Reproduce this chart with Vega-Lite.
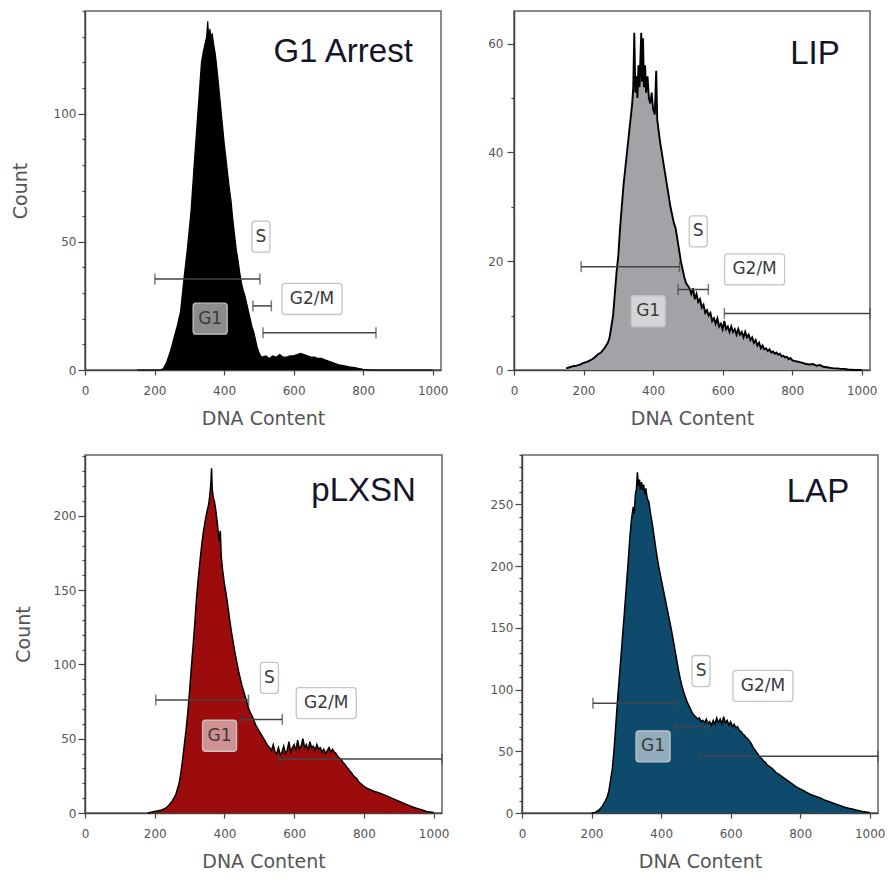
{
  "$schema": "https://vega.github.io/schema/vega-lite/v6.json",
  "background": "white",
  "padding": {"left": 10, "top": 9, "right": 5, "bottom": 5},
  "config": {
    "font": "DejaVu Sans",
    "view": {"stroke": "#666", "strokeWidth": 1.5},
    "axis": {
      "grid": false,
      "labelFont": "DejaVu Sans",
      "labelFontSize": 12,
      "labelColor": "#555",
      "titleFont": "DejaVu Sans",
      "titleFontSize": 19,
      "titleFontWeight": "normal",
      "titleColor": "#555",
      "domainColor": "#444",
      "domainWidth": 1.5,
      "tickColor": "#444",
      "tickWidth": 1.2,
      "labelOverlap": false,
      "labelFlush": false
    }
  },
  "datasets": {
    "h1": [
      {"x": 150, "c": 0}, {"x": 215, "c": 0}, {"x": 225, "c": 0.5}, {"x": 235, "c": 3}, {"x": 245, "c": 7}, {"x": 255, "c": 12}, {"x": 265, "c": 17}, {"x": 275, "c": 23}, {"x": 285, "c": 36}, {"x": 295, "c": 48}, {"x": 305, "c": 62}, {"x": 315, "c": 82}, {"x": 325, "c": 101}, {"x": 335, "c": 120}, {"x": 340, "c": 124}, {"x": 345, "c": 127}, {"x": 350, "c": 130}, {"x": 353, "c": 136}, {"x": 356, "c": 129}, {"x": 359, "c": 133}, {"x": 362, "c": 130}, {"x": 366, "c": 131}, {"x": 370, "c": 127}, {"x": 375, "c": 123}, {"x": 380, "c": 117}, {"x": 385, "c": 110}, {"x": 390, "c": 103}, {"x": 395, "c": 96}, {"x": 400, "c": 89}, {"x": 405, "c": 83}, {"x": 410, "c": 77}, {"x": 415, "c": 71}, {"x": 420, "c": 66}, {"x": 425, "c": 59}, {"x": 430, "c": 53}, {"x": 435, "c": 47}, {"x": 440, "c": 43}, {"x": 445, "c": 38}, {"x": 450, "c": 34}, {"x": 455, "c": 31}, {"x": 460, "c": 29}, {"x": 465, "c": 26}, {"x": 470, "c": 23}, {"x": 475, "c": 20}, {"x": 480, "c": 17}, {"x": 485, "c": 15}, {"x": 490, "c": 12}, {"x": 495, "c": 9}, {"x": 500, "c": 7}, {"x": 505, "c": 5.5}, {"x": 510, "c": 5}, {"x": 520, "c": 5.5}, {"x": 530, "c": 4.5}, {"x": 540, "c": 5.5}, {"x": 550, "c": 5}, {"x": 560, "c": 6}, {"x": 570, "c": 5}, {"x": 580, "c": 5}, {"x": 590, "c": 5.5}, {"x": 600, "c": 5.5}, {"x": 610, "c": 6}, {"x": 620, "c": 6.5}, {"x": 630, "c": 6}, {"x": 640, "c": 5.5}, {"x": 650, "c": 5}, {"x": 660, "c": 5}, {"x": 670, "c": 4.5}, {"x": 680, "c": 4.5}, {"x": 690, "c": 4}, {"x": 700, "c": 3.5}, {"x": 710, "c": 3}, {"x": 720, "c": 2.5}, {"x": 730, "c": 2}, {"x": 740, "c": 1.8}, {"x": 750, "c": 1.5}, {"x": 760, "c": 1.2}, {"x": 770, "c": 1}, {"x": 780, "c": 0.8}, {"x": 790, "c": 0.5}, {"x": 800, "c": 0.3}, {"x": 810, "c": 0.2}, {"x": 820, "c": 0}, {"x": 1000, "c": 0}
    ],
    "h2": [
      {"x": 150, "c": 0.3}, {"x": 160, "c": 0.5}, {"x": 170, "c": 0.7}, {"x": 180, "c": 0.8}, {"x": 190, "c": 1}, {"x": 200, "c": 1.3}, {"x": 210, "c": 1.5}, {"x": 220, "c": 1.8}, {"x": 230, "c": 2.2}, {"x": 240, "c": 2.8}, {"x": 250, "c": 3.2}, {"x": 260, "c": 4}, {"x": 270, "c": 5}, {"x": 275, "c": 6}, {"x": 280, "c": 8}, {"x": 285, "c": 10}, {"x": 290, "c": 14}, {"x": 295, "c": 18}, {"x": 300, "c": 21}, {"x": 305, "c": 26}, {"x": 310, "c": 30}, {"x": 315, "c": 34}, {"x": 320, "c": 37}, {"x": 325, "c": 40}, {"x": 330, "c": 43}, {"x": 335, "c": 46}, {"x": 340, "c": 49}, {"x": 343, "c": 52}, {"x": 346, "c": 62}, {"x": 349, "c": 51}, {"x": 352, "c": 54}, {"x": 355, "c": 50}, {"x": 358, "c": 56}, {"x": 361, "c": 52}, {"x": 364, "c": 58}, {"x": 366, "c": 62}, {"x": 368, "c": 53}, {"x": 371, "c": 61}, {"x": 374, "c": 52}, {"x": 377, "c": 56}, {"x": 380, "c": 51}, {"x": 384, "c": 54}, {"x": 388, "c": 50}, {"x": 392, "c": 49}, {"x": 396, "c": 51}, {"x": 400, "c": 48}, {"x": 405, "c": 47}, {"x": 409, "c": 55}, {"x": 412, "c": 46}, {"x": 416, "c": 44}, {"x": 420, "c": 42}, {"x": 425, "c": 40}, {"x": 430, "c": 38}, {"x": 435, "c": 36}, {"x": 440, "c": 34}, {"x": 445, "c": 32}, {"x": 450, "c": 30}, {"x": 455, "c": 28.5}, {"x": 460, "c": 27}, {"x": 465, "c": 26}, {"x": 470, "c": 24}, {"x": 475, "c": 22}, {"x": 480, "c": 20}, {"x": 485, "c": 18.5}, {"x": 490, "c": 17}, {"x": 495, "c": 16}, {"x": 500, "c": 15.5}, {"x": 505, "c": 15}, {"x": 510, "c": 14}, {"x": 515, "c": 15}, {"x": 520, "c": 13}, {"x": 525, "c": 14}, {"x": 530, "c": 12.5}, {"x": 535, "c": 13}, {"x": 540, "c": 11.5}, {"x": 545, "c": 12}, {"x": 550, "c": 10.5}, {"x": 555, "c": 11}, {"x": 560, "c": 10}, {"x": 565, "c": 10.5}, {"x": 570, "c": 9}, {"x": 575, "c": 9.5}, {"x": 580, "c": 8.5}, {"x": 585, "c": 9.5}, {"x": 590, "c": 8}, {"x": 595, "c": 8.5}, {"x": 600, "c": 7.5}, {"x": 605, "c": 9}, {"x": 610, "c": 7.5}, {"x": 615, "c": 8}, {"x": 620, "c": 7}, {"x": 625, "c": 8}, {"x": 630, "c": 7}, {"x": 635, "c": 7.5}, {"x": 640, "c": 6.5}, {"x": 645, "c": 7.5}, {"x": 650, "c": 6.5}, {"x": 655, "c": 7}, {"x": 660, "c": 6}, {"x": 665, "c": 7}, {"x": 670, "c": 6}, {"x": 675, "c": 6.5}, {"x": 680, "c": 5.5}, {"x": 685, "c": 6}, {"x": 690, "c": 5}, {"x": 695, "c": 5.5}, {"x": 700, "c": 4.5}, {"x": 705, "c": 5}, {"x": 710, "c": 4}, {"x": 715, "c": 4.5}, {"x": 720, "c": 3.8}, {"x": 725, "c": 4}, {"x": 730, "c": 3.5}, {"x": 735, "c": 3.8}, {"x": 740, "c": 3.2}, {"x": 745, "c": 3.4}, {"x": 750, "c": 3}, {"x": 755, "c": 3.2}, {"x": 760, "c": 2.8}, {"x": 765, "c": 3}, {"x": 770, "c": 2.5}, {"x": 775, "c": 2.6}, {"x": 780, "c": 2.3}, {"x": 785, "c": 2.4}, {"x": 790, "c": 2}, {"x": 795, "c": 2.2}, {"x": 800, "c": 1.8}, {"x": 810, "c": 1.6}, {"x": 820, "c": 1.5}, {"x": 830, "c": 1.3}, {"x": 840, "c": 1.1}, {"x": 850, "c": 1}, {"x": 860, "c": 1.1}, {"x": 870, "c": 0.8}, {"x": 880, "c": 0.9}, {"x": 890, "c": 0.6}, {"x": 900, "c": 0.5}, {"x": 910, "c": 0.4}, {"x": 920, "c": 0.3}, {"x": 930, "c": 0.3}, {"x": 940, "c": 0.2}, {"x": 950, "c": 0.2}, {"x": 960, "c": 0.1}, {"x": 980, "c": 0}, {"x": 1000, "c": 0}
    ],
    "h3": [
      {"x": 180, "c": 0}, {"x": 190, "c": 0.5}, {"x": 200, "c": 1}, {"x": 210, "c": 1.5}, {"x": 220, "c": 2}, {"x": 230, "c": 3}, {"x": 240, "c": 5}, {"x": 250, "c": 8}, {"x": 260, "c": 12}, {"x": 265, "c": 16}, {"x": 270, "c": 20}, {"x": 275, "c": 27}, {"x": 280, "c": 36}, {"x": 285, "c": 46}, {"x": 290, "c": 56}, {"x": 295, "c": 68}, {"x": 300, "c": 82}, {"x": 305, "c": 98}, {"x": 310, "c": 112}, {"x": 315, "c": 128}, {"x": 320, "c": 145}, {"x": 325, "c": 158}, {"x": 330, "c": 170}, {"x": 335, "c": 181}, {"x": 340, "c": 190}, {"x": 345, "c": 197}, {"x": 350, "c": 203}, {"x": 355, "c": 208}, {"x": 358, "c": 214}, {"x": 361, "c": 222}, {"x": 363, "c": 232}, {"x": 365, "c": 218}, {"x": 368, "c": 212}, {"x": 371, "c": 210}, {"x": 375, "c": 204}, {"x": 380, "c": 194}, {"x": 385, "c": 183}, {"x": 388, "c": 190}, {"x": 391, "c": 172}, {"x": 395, "c": 163}, {"x": 400, "c": 154}, {"x": 405, "c": 147}, {"x": 410, "c": 139}, {"x": 415, "c": 130}, {"x": 420, "c": 122}, {"x": 425, "c": 115}, {"x": 430, "c": 108}, {"x": 435, "c": 102}, {"x": 440, "c": 96}, {"x": 445, "c": 91}, {"x": 450, "c": 86}, {"x": 455, "c": 82}, {"x": 460, "c": 78}, {"x": 465, "c": 74}, {"x": 470, "c": 70}, {"x": 475, "c": 67}, {"x": 480, "c": 65}, {"x": 485, "c": 62}, {"x": 490, "c": 59}, {"x": 495, "c": 57}, {"x": 500, "c": 55}, {"x": 505, "c": 53}, {"x": 510, "c": 51}, {"x": 515, "c": 49}, {"x": 520, "c": 47}, {"x": 525, "c": 45}, {"x": 530, "c": 44}, {"x": 535, "c": 42}, {"x": 540, "c": 46}, {"x": 545, "c": 41}, {"x": 550, "c": 40}, {"x": 555, "c": 44}, {"x": 560, "c": 39}, {"x": 565, "c": 41}, {"x": 570, "c": 45}, {"x": 575, "c": 40}, {"x": 580, "c": 42}, {"x": 585, "c": 48}, {"x": 590, "c": 41}, {"x": 595, "c": 44}, {"x": 600, "c": 46}, {"x": 605, "c": 42}, {"x": 610, "c": 49}, {"x": 615, "c": 43}, {"x": 620, "c": 45}, {"x": 625, "c": 50}, {"x": 630, "c": 44}, {"x": 635, "c": 46}, {"x": 640, "c": 42}, {"x": 645, "c": 48}, {"x": 650, "c": 44}, {"x": 655, "c": 45}, {"x": 660, "c": 42}, {"x": 665, "c": 46}, {"x": 670, "c": 43}, {"x": 675, "c": 44}, {"x": 680, "c": 41}, {"x": 685, "c": 43}, {"x": 690, "c": 40}, {"x": 695, "c": 42}, {"x": 700, "c": 44}, {"x": 705, "c": 41}, {"x": 710, "c": 43}, {"x": 715, "c": 41}, {"x": 720, "c": 40}, {"x": 725, "c": 38}, {"x": 730, "c": 37}, {"x": 735, "c": 36}, {"x": 740, "c": 34}, {"x": 745, "c": 33}, {"x": 750, "c": 31}, {"x": 755, "c": 30}, {"x": 760, "c": 28}, {"x": 765, "c": 27}, {"x": 770, "c": 25}, {"x": 775, "c": 24}, {"x": 780, "c": 23}, {"x": 785, "c": 21}, {"x": 790, "c": 20}, {"x": 795, "c": 19}, {"x": 800, "c": 18}, {"x": 810, "c": 16.5}, {"x": 820, "c": 15.5}, {"x": 830, "c": 14.5}, {"x": 840, "c": 13.8}, {"x": 850, "c": 13}, {"x": 860, "c": 12}, {"x": 870, "c": 11}, {"x": 880, "c": 10}, {"x": 890, "c": 9}, {"x": 900, "c": 8}, {"x": 910, "c": 7}, {"x": 920, "c": 6}, {"x": 930, "c": 5}, {"x": 940, "c": 4}, {"x": 950, "c": 3.3}, {"x": 960, "c": 2.6}, {"x": 970, "c": 1.8}, {"x": 980, "c": 1.1}, {"x": 990, "c": 0.6}, {"x": 1000, "c": 0.3}
    ],
    "h4": [
      {"x": 200, "c": 0}, {"x": 210, "c": 0.5}, {"x": 220, "c": 2}, {"x": 230, "c": 5}, {"x": 240, "c": 10}, {"x": 245, "c": 13}, {"x": 250, "c": 18}, {"x": 255, "c": 27}, {"x": 260, "c": 36}, {"x": 265, "c": 52}, {"x": 270, "c": 72}, {"x": 275, "c": 92}, {"x": 280, "c": 110}, {"x": 285, "c": 128}, {"x": 290, "c": 146}, {"x": 295, "c": 164}, {"x": 300, "c": 183}, {"x": 305, "c": 202}, {"x": 310, "c": 222}, {"x": 315, "c": 238}, {"x": 320, "c": 248}, {"x": 323, "c": 242}, {"x": 326, "c": 258}, {"x": 329, "c": 262}, {"x": 332, "c": 276}, {"x": 335, "c": 265}, {"x": 338, "c": 270}, {"x": 341, "c": 262}, {"x": 344, "c": 268}, {"x": 347, "c": 262}, {"x": 350, "c": 266}, {"x": 353, "c": 258}, {"x": 356, "c": 263}, {"x": 360, "c": 255}, {"x": 365, "c": 252}, {"x": 370, "c": 242}, {"x": 375, "c": 234}, {"x": 380, "c": 224}, {"x": 385, "c": 214}, {"x": 390, "c": 205}, {"x": 395, "c": 197}, {"x": 400, "c": 190}, {"x": 405, "c": 183}, {"x": 410, "c": 176}, {"x": 415, "c": 169}, {"x": 420, "c": 162}, {"x": 425, "c": 155}, {"x": 430, "c": 148}, {"x": 435, "c": 140}, {"x": 440, "c": 132}, {"x": 445, "c": 124}, {"x": 450, "c": 116}, {"x": 455, "c": 109}, {"x": 460, "c": 103}, {"x": 465, "c": 98}, {"x": 470, "c": 94}, {"x": 475, "c": 90}, {"x": 480, "c": 87}, {"x": 485, "c": 84}, {"x": 490, "c": 81}, {"x": 495, "c": 79}, {"x": 500, "c": 78}, {"x": 505, "c": 76}, {"x": 510, "c": 77}, {"x": 515, "c": 74}, {"x": 520, "c": 75}, {"x": 525, "c": 73}, {"x": 530, "c": 76}, {"x": 535, "c": 72}, {"x": 540, "c": 74}, {"x": 545, "c": 71}, {"x": 550, "c": 75}, {"x": 555, "c": 72}, {"x": 560, "c": 77}, {"x": 565, "c": 73}, {"x": 570, "c": 76}, {"x": 575, "c": 72}, {"x": 580, "c": 78}, {"x": 585, "c": 73}, {"x": 590, "c": 75}, {"x": 595, "c": 71}, {"x": 600, "c": 74}, {"x": 605, "c": 70}, {"x": 610, "c": 72}, {"x": 615, "c": 69}, {"x": 620, "c": 70}, {"x": 625, "c": 67}, {"x": 630, "c": 66}, {"x": 635, "c": 64}, {"x": 640, "c": 63}, {"x": 645, "c": 61}, {"x": 650, "c": 60}, {"x": 655, "c": 58}, {"x": 660, "c": 56}, {"x": 665, "c": 53}, {"x": 670, "c": 51}, {"x": 675, "c": 49}, {"x": 680, "c": 47}, {"x": 685, "c": 45}, {"x": 690, "c": 44}, {"x": 695, "c": 42}, {"x": 700, "c": 41}, {"x": 705, "c": 39}, {"x": 710, "c": 38}, {"x": 715, "c": 37}, {"x": 720, "c": 36}, {"x": 730, "c": 33}, {"x": 740, "c": 31}, {"x": 750, "c": 29}, {"x": 760, "c": 27}, {"x": 770, "c": 25}, {"x": 780, "c": 23}, {"x": 790, "c": 21}, {"x": 800, "c": 19.5}, {"x": 810, "c": 18}, {"x": 820, "c": 16.5}, {"x": 830, "c": 15}, {"x": 840, "c": 14}, {"x": 850, "c": 13}, {"x": 860, "c": 12}, {"x": 870, "c": 10.5}, {"x": 880, "c": 9.5}, {"x": 890, "c": 8.5}, {"x": 900, "c": 7.5}, {"x": 910, "c": 6.5}, {"x": 920, "c": 5.5}, {"x": 930, "c": 4.5}, {"x": 940, "c": 3.8}, {"x": 950, "c": 3.2}, {"x": 960, "c": 2.5}, {"x": 970, "c": 1.8}, {"x": 980, "c": 1.2}, {"x": 990, "c": 0.8}, {"x": 1000, "c": 0.5}
    ],
    "gates": [
      {"p": 1, "x1": 201, "x2": 503, "y": 35.5},
      {"p": 1, "x1": 483, "x2": 536, "y": 25},
      {"p": 1, "x1": 512, "x2": 837, "y": 14.5},
      {"p": 2, "x1": 193, "x2": 476, "y": 19},
      {"p": 2, "x1": 472, "x2": 559, "y": 14.8},
      {"p": 2, "x1": 605, "x2": 1024, "y": 10.4},
      {"p": 3, "x1": 203, "x2": 469, "y": 76},
      {"p": 3, "x1": 449, "x2": 566, "y": 63},
      {"p": 3, "x1": 555, "x2": 1024, "y": 36.3},
      {"p": 4, "x1": 204, "x2": 443, "y": 89},
      {"p": 4, "x1": 440, "x2": 535, "y": 70},
      {"p": 4, "x1": 510, "x2": 1024, "y": 46}
    ],
    "labels": [
      {"p": 1, "label": "S", "x": 506, "y": 52},
      {"p": 1, "label": "G2/M", "x": 653, "y": 27.7},
      {"p": 1, "label": "G1", "x": 360, "y": 20},
      {"p": 2, "label": "S", "x": 530, "y": 25.5},
      {"p": 2, "label": "G2/M", "x": 692, "y": 18.5},
      {"p": 2, "label": "G1", "x": 386, "y": 10.8},
      {"p": 3, "label": "S", "x": 529, "y": 91},
      {"p": 3, "label": "G2/M", "x": 692, "y": 74},
      {"p": 3, "label": "G1", "x": 386, "y": 52},
      {"p": 4, "label": "S", "x": 515, "y": 115},
      {"p": 4, "label": "G2/M", "x": 693, "y": 103},
      {"p": 4, "label": "G1", "x": 377, "y": 54}
    ],
    "titles": [
      {"p": 1, "name": "G1 Arrest", "x": 943, "y": 120},
      {"p": 2, "name": "LIP", "x": 937, "y": 56.2},
      {"p": 3, "name": "pLXSN", "x": 949, "y": 210},
      {"p": 4, "name": "LAP", "x": 941, "y": 252}
    ]
  },
  "vconcat": [
    {
      "hconcat": [
        {
          "width": 356, "height": 359,
          "resolve": {"axis": {"y": "independent"}},
          "layer": [
            {"data": {"name": "h1"}, "mark": {"type": "area", "color": "#000000", "interpolate": "linear"},
             "encoding": {
               "x": {"field": "x", "type": "quantitative", "title": "DNA Content", "scale": {"domain": [0, 1024], "nice": false, "zero": false},
                     "axis": {"values": [0,100,200,300,400,500,600,700,800,900,1000], "format": "d", "labelExpr": "datum.value % 200 === 0 ? datum.label : ''", "tickSize": {"condition": {"test": "datum.value % 200 === 0", "value": 5}, "value": 3}, "labelPadding": 10, "titlePadding": 13}},
               "y": {"field": "c", "type": "quantitative", "title": "Count", "scale": {"domain": [0, 140], "nice": false},
                     "axis": {"orient": "left", "values": [0, 50, 100], "format": "d", "tickSize": 7, "labelPadding": 2, "minExtent": 40, "maxExtent": 40, "titlePadding": 15}}
             }},
            {"data": {"name": "h1"}, "mark": {"type": "line", "color": "#000000", "strokeWidth": 1.2},
             "encoding": {"x": {"field": "x", "type": "quantitative"},
               "y": {"field": "c", "type": "quantitative", "title": null, "axis": {"orient": "left", "values": [10,20,30,40,60,70,80,90,110,120,130,140], "labels": false, "domain": false, "tickSize": 3, "minExtent": 0, "maxExtent": 4}}}},
            {"data": {"name": "gates"}, "transform": [{"filter": "datum.p === 1"}], "mark": {"type": "rule", "color": "#444", "strokeWidth": 1.5},
             "encoding": {"x": {"field": "x1", "type": "quantitative"}, "x2": {"field": "x2"}, "y": {"field": "y", "type": "quantitative", "axis": null}}},
            {"data": {"name": "gates"}, "transform": [{"filter": "datum.p === 1"}], "mark": {"type": "tick", "orient": "vertical", "color": "#444", "thickness": 1.5, "size": 11},
             "encoding": {"x": {"field": "x1", "type": "quantitative"}, "y": {"field": "y", "type": "quantitative", "axis": null}}},
            {"data": {"name": "gates"}, "transform": [{"filter": "datum.p === 1"}], "mark": {"type": "tick", "orient": "vertical", "color": "#444", "thickness": 1.5, "size": 11},
             "encoding": {"x": {"field": "x2", "type": "quantitative"}, "y": {"field": "y", "type": "quantitative", "axis": null}}},
            {"data": {"name": "labels"}, "transform": [{"filter": "datum.p === 1"}], "mark": {"type": "point", "filled": true, "fill": "white", "fillOpacity": 0.55, "opacity": 1, "stroke": "#c4c4c4", "strokeWidth": 1.3, "size": 3600},
             "encoding": {"x": {"field": "x", "type": "quantitative"}, "y": {"field": "y", "type": "quantitative", "axis": null},
               "shape": {"field": "label", "type": "nominal", "legend": null, "scale": {"domain": ["S", "G1", "G2/M"], "range": [
                 "M-0.2,-0.517 L0.2,-0.517 Q0.3,-0.517 0.3,-0.417 L0.3,0.417 Q0.3,0.517 0.2,0.517 L-0.2,0.517 Q-0.3,0.517 -0.3,0.417 L-0.3,-0.417 Q-0.3,-0.517 -0.2,-0.517 Z",
                 "M-0.467,-0.517 L0.467,-0.517 Q0.567,-0.517 0.567,-0.417 L0.567,0.417 Q0.567,0.517 0.467,0.517 L-0.467,0.517 Q-0.567,0.517 -0.567,0.417 L-0.567,-0.417 Q-0.567,-0.517 -0.467,-0.517 Z",
                 "M-0.9,-0.517 L0.9,-0.517 Q1,-0.517 1,-0.417 L1,0.417 Q1,0.517 0.9,0.517 L-0.9,0.517 Q-1,0.517 -1,0.417 L-1,-0.417 Q-1,-0.517 -0.9,-0.517 Z"]}}}},
            {"data": {"name": "labels"}, "transform": [{"filter": "datum.p === 1"}], "mark": {"type": "text", "font": "DejaVu Sans", "fontSize": 17, "color": "#3a3a3a", "align": "center", "baseline": "middle"},
             "encoding": {"x": {"field": "x", "type": "quantitative"}, "y": {"field": "y", "type": "quantitative", "axis": null}, "text": {"field": "label"}}},
            {"data": {"name": "titles"}, "transform": [{"filter": "datum.p === 1"}], "mark": {"type": "text", "font": "Liberation Sans", "fontSize": 33, "color": "#14142a", "align": "right", "baseline": "alphabetic"},
             "encoding": {"x": {"field": "x", "type": "quantitative"}, "y": {"field": "y", "type": "quantitative", "axis": null}, "text": {"field": "name"}}}
          ]
        },
        {
          "width": 356, "height": 359,
          "resolve": {"axis": {"y": "independent"}},
          "layer": [
            {"data": {"name": "h2"}, "mark": {"type": "area", "color": "#a2a2a7", "interpolate": "linear"},
             "encoding": {
               "x": {"field": "x", "type": "quantitative", "title": "DNA Content", "scale": {"domain": [0, 1024], "nice": false, "zero": false},
                     "axis": {"values": [0,100,200,300,400,500,600,700,800,900,1000], "format": "d", "labelExpr": "datum.value % 200 === 0 ? datum.label : ''", "tickSize": {"condition": {"test": "datum.value % 200 === 0", "value": 5}, "value": 3}, "labelPadding": 10, "titlePadding": 13}},
               "y": {"field": "c", "type": "quantitative", "title": null, "scale": {"domain": [0, 66], "nice": false},
                     "axis": {"orient": "left", "values": [0, 20, 40, 60], "format": "d", "tickSize": 7, "labelPadding": 4, "minExtent": 30, "maxExtent": 30}}
             }},
            {"data": {"name": "h2"}, "mark": {"type": "line", "color": "#000000", "strokeWidth": 1.9},
             "encoding": {"x": {"field": "x", "type": "quantitative"},
               "y": {"field": "c", "type": "quantitative", "title": null, "axis": {"orient": "left", "values": [10, 30, 50], "labels": false, "domain": false, "tickSize": 3, "minExtent": 0, "maxExtent": 4}}}},
            {"data": {"name": "gates"}, "transform": [{"filter": "datum.p === 2"}], "mark": {"type": "rule", "color": "#444", "strokeWidth": 1.5},
             "encoding": {"x": {"field": "x1", "type": "quantitative"}, "x2": {"field": "x2"}, "y": {"field": "y", "type": "quantitative", "axis": null}}},
            {"data": {"name": "gates"}, "transform": [{"filter": "datum.p === 2"}], "mark": {"type": "tick", "orient": "vertical", "color": "#444", "thickness": 1.5, "size": 11},
             "encoding": {"x": {"field": "x1", "type": "quantitative"}, "y": {"field": "y", "type": "quantitative", "axis": null}}},
            {"data": {"name": "gates"}, "transform": [{"filter": "datum.p === 2"}], "mark": {"type": "tick", "orient": "vertical", "color": "#444", "thickness": 1.5, "size": 11},
             "encoding": {"x": {"field": "x2", "type": "quantitative"}, "y": {"field": "y", "type": "quantitative", "axis": null}}},
            {"data": {"name": "labels"}, "transform": [{"filter": "datum.p === 2"}], "mark": {"type": "point", "filled": true, "fill": "white", "fillOpacity": 0.55, "opacity": 1, "stroke": "#c4c4c4", "strokeWidth": 1.3, "size": 3600},
             "encoding": {"x": {"field": "x", "type": "quantitative"}, "y": {"field": "y", "type": "quantitative", "axis": null},
               "shape": {"field": "label", "type": "nominal", "legend": null, "scale": {"domain": ["S", "G1", "G2/M"], "range": [
                 "M-0.2,-0.517 L0.2,-0.517 Q0.3,-0.517 0.3,-0.417 L0.3,0.417 Q0.3,0.517 0.2,0.517 L-0.2,0.517 Q-0.3,0.517 -0.3,0.417 L-0.3,-0.417 Q-0.3,-0.517 -0.2,-0.517 Z",
                 "M-0.467,-0.517 L0.467,-0.517 Q0.567,-0.517 0.567,-0.417 L0.567,0.417 Q0.567,0.517 0.467,0.517 L-0.467,0.517 Q-0.567,0.517 -0.567,0.417 L-0.567,-0.417 Q-0.567,-0.517 -0.467,-0.517 Z",
                 "M-0.9,-0.517 L0.9,-0.517 Q1,-0.517 1,-0.417 L1,0.417 Q1,0.517 0.9,0.517 L-0.9,0.517 Q-1,0.517 -1,0.417 L-1,-0.417 Q-1,-0.517 -0.9,-0.517 Z"]}}}},
            {"data": {"name": "labels"}, "transform": [{"filter": "datum.p === 2"}], "mark": {"type": "text", "font": "DejaVu Sans", "fontSize": 17, "color": "#3a3a3a", "align": "center", "baseline": "middle"},
             "encoding": {"x": {"field": "x", "type": "quantitative"}, "y": {"field": "y", "type": "quantitative", "axis": null}, "text": {"field": "label"}}},
            {"data": {"name": "titles"}, "transform": [{"filter": "datum.p === 2"}], "mark": {"type": "text", "font": "Liberation Sans", "fontSize": 33, "color": "#14142a", "align": "right", "baseline": "alphabetic"},
             "encoding": {"x": {"field": "x", "type": "quantitative"}, "y": {"field": "y", "type": "quantitative", "axis": null}, "text": {"field": "name"}}}
          ]
        }
      ],
      "spacing": 73,
      "bounds": "flush"
    },
    {
      "hconcat": [
        {
          "width": 357, "height": 358,
          "resolve": {"axis": {"y": "independent"}},
          "layer": [
            {"data": {"name": "h3"}, "mark": {"type": "area", "color": "#9c0c0c", "interpolate": "linear"},
             "encoding": {
               "x": {"field": "x", "type": "quantitative", "title": "DNA Content", "scale": {"domain": [0, 1024], "nice": false, "zero": false},
                     "axis": {"values": [0,100,200,300,400,500,600,700,800,900,1000], "format": "d", "labelExpr": "datum.value % 200 === 0 ? datum.label : ''", "tickSize": {"condition": {"test": "datum.value % 200 === 0", "value": 5}, "value": 3}, "labelPadding": 10, "titlePadding": 13}},
               "y": {"field": "c", "type": "quantitative", "title": "Count", "scale": {"domain": [0, 241], "nice": false},
                     "axis": {"orient": "left", "values": [0, 50, 100, 150, 200], "format": "d", "tickSize": 7, "labelPadding": 2, "minExtent": 40, "maxExtent": 40, "titlePadding": 12}}
             }},
            {"data": {"name": "h3"}, "mark": {"type": "line", "color": "#000000", "strokeWidth": 1.5},
             "encoding": {"x": {"field": "x", "type": "quantitative"},
               "y": {"field": "c", "type": "quantitative", "title": null, "axis": {"orient": "left", "values": [10,20,30,40,60,70,80,90,110,120,130,140,160,170,180,190,210,220,230,240], "labels": false, "domain": false, "tickSize": 3, "minExtent": 0, "maxExtent": 4}}}},
            {"data": {"name": "gates"}, "transform": [{"filter": "datum.p === 3"}], "mark": {"type": "rule", "color": "#444", "strokeWidth": 1.5},
             "encoding": {"x": {"field": "x1", "type": "quantitative"}, "x2": {"field": "x2"}, "y": {"field": "y", "type": "quantitative", "axis": null}}},
            {"data": {"name": "gates"}, "transform": [{"filter": "datum.p === 3"}], "mark": {"type": "tick", "orient": "vertical", "color": "#444", "thickness": 1.5, "size": 11},
             "encoding": {"x": {"field": "x1", "type": "quantitative"}, "y": {"field": "y", "type": "quantitative", "axis": null}}},
            {"data": {"name": "gates"}, "transform": [{"filter": "datum.p === 3"}], "mark": {"type": "tick", "orient": "vertical", "color": "#444", "thickness": 1.5, "size": 11},
             "encoding": {"x": {"field": "x2", "type": "quantitative"}, "y": {"field": "y", "type": "quantitative", "axis": null}}},
            {"data": {"name": "labels"}, "transform": [{"filter": "datum.p === 3"}], "mark": {"type": "point", "filled": true, "fill": "white", "fillOpacity": 0.55, "opacity": 1, "stroke": "#c4c4c4", "strokeWidth": 1.3, "size": 3600},
             "encoding": {"x": {"field": "x", "type": "quantitative"}, "y": {"field": "y", "type": "quantitative", "axis": null},
               "shape": {"field": "label", "type": "nominal", "legend": null, "scale": {"domain": ["S", "G1", "G2/M"], "range": [
                 "M-0.2,-0.517 L0.2,-0.517 Q0.3,-0.517 0.3,-0.417 L0.3,0.417 Q0.3,0.517 0.2,0.517 L-0.2,0.517 Q-0.3,0.517 -0.3,0.417 L-0.3,-0.417 Q-0.3,-0.517 -0.2,-0.517 Z",
                 "M-0.467,-0.517 L0.467,-0.517 Q0.567,-0.517 0.567,-0.417 L0.567,0.417 Q0.567,0.517 0.467,0.517 L-0.467,0.517 Q-0.567,0.517 -0.567,0.417 L-0.567,-0.417 Q-0.567,-0.517 -0.467,-0.517 Z",
                 "M-0.9,-0.517 L0.9,-0.517 Q1,-0.517 1,-0.417 L1,0.417 Q1,0.517 0.9,0.517 L-0.9,0.517 Q-1,0.517 -1,0.417 L-1,-0.417 Q-1,-0.517 -0.9,-0.517 Z"]}}}},
            {"data": {"name": "labels"}, "transform": [{"filter": "datum.p === 3"}], "mark": {"type": "text", "font": "DejaVu Sans", "fontSize": 17, "color": "#3a3a3a", "align": "center", "baseline": "middle"},
             "encoding": {"x": {"field": "x", "type": "quantitative"}, "y": {"field": "y", "type": "quantitative", "axis": null}, "text": {"field": "label"}}},
            {"data": {"name": "titles"}, "transform": [{"filter": "datum.p === 3"}], "mark": {"type": "text", "font": "Liberation Sans", "fontSize": 33, "color": "#14142a", "align": "right", "baseline": "alphabetic"},
             "encoding": {"x": {"field": "x", "type": "quantitative"}, "y": {"field": "y", "type": "quantitative", "axis": null}, "text": {"field": "name"}}}
          ]
        },
        {
          "width": 356, "height": 358,
          "resolve": {"axis": {"y": "independent"}},
          "layer": [
            {"data": {"name": "h4"}, "mark": {"type": "area", "color": "#0e4a6c", "interpolate": "linear"},
             "encoding": {
               "x": {"field": "x", "type": "quantitative", "title": "DNA Content", "scale": {"domain": [0, 1024], "nice": false, "zero": false},
                     "axis": {"values": [0,100,200,300,400,500,600,700,800,900,1000], "format": "d", "labelExpr": "datum.value % 200 === 0 ? datum.label : ''", "tickSize": {"condition": {"test": "datum.value % 200 === 0", "value": 5}, "value": 3}, "labelPadding": 10, "titlePadding": 13}},
               "y": {"field": "c", "type": "quantitative", "title": null, "scale": {"domain": [0, 290], "nice": false},
                     "axis": {"orient": "left", "values": [0, 50, 100, 150, 200, 250], "format": "d", "tickSize": 7, "labelPadding": 2, "minExtent": 36, "maxExtent": 36}}
             }},
            {"data": {"name": "h4"}, "mark": {"type": "line", "color": "#000000", "strokeWidth": 1.5},
             "encoding": {"x": {"field": "x", "type": "quantitative"},
               "y": {"field": "c", "type": "quantitative", "title": null, "axis": {"orient": "left", "values": [10,20,30,40,60,70,80,90,110,120,130,140,160,170,180,190,210,220,230,240,260,270,280,290], "labels": false, "domain": false, "tickSize": 3, "minExtent": 0, "maxExtent": 4}}}},
            {"data": {"name": "gates"}, "transform": [{"filter": "datum.p === 4"}], "mark": {"type": "rule", "color": "#444", "strokeWidth": 1.5},
             "encoding": {"x": {"field": "x1", "type": "quantitative"}, "x2": {"field": "x2"}, "y": {"field": "y", "type": "quantitative", "axis": null}}},
            {"data": {"name": "gates"}, "transform": [{"filter": "datum.p === 4"}], "mark": {"type": "tick", "orient": "vertical", "color": "#444", "thickness": 1.5, "size": 11},
             "encoding": {"x": {"field": "x1", "type": "quantitative"}, "y": {"field": "y", "type": "quantitative", "axis": null}}},
            {"data": {"name": "gates"}, "transform": [{"filter": "datum.p === 4"}], "mark": {"type": "tick", "orient": "vertical", "color": "#444", "thickness": 1.5, "size": 11},
             "encoding": {"x": {"field": "x2", "type": "quantitative"}, "y": {"field": "y", "type": "quantitative", "axis": null}}},
            {"data": {"name": "labels"}, "transform": [{"filter": "datum.p === 4"}], "mark": {"type": "point", "filled": true, "fill": "white", "fillOpacity": 0.55, "opacity": 1, "stroke": "#c4c4c4", "strokeWidth": 1.3, "size": 3600},
             "encoding": {"x": {"field": "x", "type": "quantitative"}, "y": {"field": "y", "type": "quantitative", "axis": null},
               "shape": {"field": "label", "type": "nominal", "legend": null, "scale": {"domain": ["S", "G1", "G2/M"], "range": [
                 "M-0.2,-0.517 L0.2,-0.517 Q0.3,-0.517 0.3,-0.417 L0.3,0.417 Q0.3,0.517 0.2,0.517 L-0.2,0.517 Q-0.3,0.517 -0.3,0.417 L-0.3,-0.417 Q-0.3,-0.517 -0.2,-0.517 Z",
                 "M-0.467,-0.517 L0.467,-0.517 Q0.567,-0.517 0.567,-0.417 L0.567,0.417 Q0.567,0.517 0.467,0.517 L-0.467,0.517 Q-0.567,0.517 -0.567,0.417 L-0.567,-0.417 Q-0.567,-0.517 -0.467,-0.517 Z",
                 "M-0.9,-0.517 L0.9,-0.517 Q1,-0.517 1,-0.417 L1,0.417 Q1,0.517 0.9,0.517 L-0.9,0.517 Q-1,0.517 -1,0.417 L-1,-0.417 Q-1,-0.517 -0.9,-0.517 Z"]}}}},
            {"data": {"name": "labels"}, "transform": [{"filter": "datum.p === 4"}], "mark": {"type": "text", "font": "DejaVu Sans", "fontSize": 17, "color": "#3a3a3a", "align": "center", "baseline": "middle"},
             "encoding": {"x": {"field": "x", "type": "quantitative"}, "y": {"field": "y", "type": "quantitative", "axis": null}, "text": {"field": "label"}}},
            {"data": {"name": "titles"}, "transform": [{"filter": "datum.p === 4"}], "mark": {"type": "text", "font": "Liberation Sans", "fontSize": 33, "color": "#14142a", "align": "right", "baseline": "alphabetic"},
             "encoding": {"x": {"field": "x", "type": "quantitative"}, "y": {"field": "y", "type": "quantitative", "axis": null}, "text": {"field": "name"}}}
          ]
        }
      ],
      "spacing": 80,
      "bounds": "flush"
    }
  ],
  "spacing": 24
}
